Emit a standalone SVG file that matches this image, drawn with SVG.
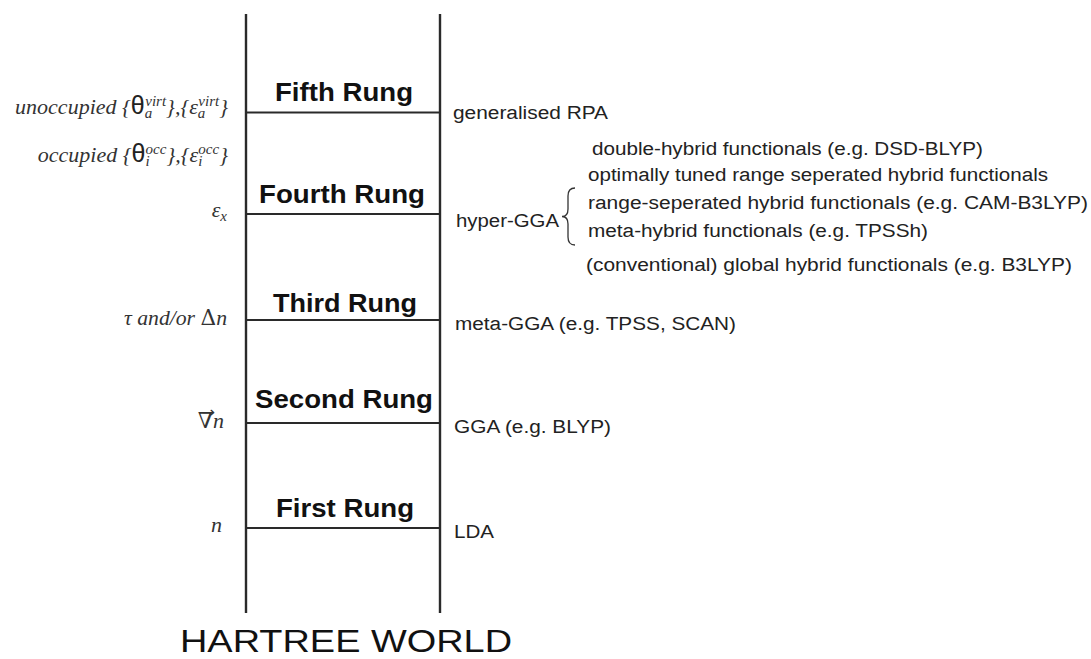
<svg xmlns="http://www.w3.org/2000/svg" width="1091" height="659" viewBox="0 0 1091 659">
<style>
.rail{stroke:#2a2a2a;stroke-width:2.4;fill:none}
.rung{stroke:#2a2a2a;stroke-width:2.2;fill:none}
.brace{stroke:#333;stroke-width:1.3;fill:none}
.rl{font-family:"Liberation Sans",Arial,sans-serif;font-weight:bold;font-size:26px;fill:#111}
.fl{font-family:"Liberation Sans",Arial,sans-serif;font-size:18px;fill:#222}
.m{font-family:"Liberation Serif","Times New Roman",serif;font-style:italic;font-size:22px;fill:#333}
.th{font-family:"Liberation Sans",Arial,sans-serif;font-style:normal;font-size:25px;fill:#222}
.s{font-size:15px}
.up{font-family:"DejaVu Serif",serif;font-style:normal}
.ar{font-family:"DejaVu Sans",sans-serif;font-size:14px;fill:#333}
.hw{font-family:"Liberation Sans",Arial,sans-serif;font-size:32px;fill:#111}
</style>
<g id="connectors">
<line class="rail" x1="246" y1="14" x2="246" y2="613"/>
<line class="rail" x1="440" y1="14" x2="440" y2="613"/>
</g>
<g id="rung5">
<line class="rung" x1="246" y1="112.5" x2="441" y2="112.5"/>
<text class="rl" x="275" y="101" textLength="138" lengthAdjust="spacingAndGlyphs">Fifth Rung</text>
<text class="fl" x="453" y="118.5" textLength="155" lengthAdjust="spacingAndGlyphs">generalised RPA</text>
<text class="m" x="228" y="114" text-anchor="end">unoccupied {<tspan class="th">θ</tspan><tspan class="s" dy="4">a</tspan><tspan class="s" dx="-7" dy="-12.5">virt</tspan><tspan dy="8.5">},{ε</tspan><tspan class="s" dy="4">a</tspan><tspan class="s" dx="-7" dy="-12.5">virt</tspan><tspan dy="8.5">}</tspan></text>
<text class="m" x="228" y="162" text-anchor="end">occupied {<tspan class="th">θ</tspan><tspan class="s" dy="4">i</tspan><tspan class="s" dx="-4" dy="-12.5">occ</tspan><tspan dy="8.5">},{ε</tspan><tspan class="s" dy="4">i</tspan><tspan class="s" dx="-4" dy="-12.5">occ</tspan><tspan dy="8.5">}</tspan></text>
</g>
<g id="rung4">
<line class="rung" x1="246" y1="214" x2="441" y2="214"/>
<text class="rl" x="259" y="203" textLength="166" lengthAdjust="spacingAndGlyphs">Fourth Rung</text>
<text class="fl" x="456" y="227" textLength="103" lengthAdjust="spacingAndGlyphs">hyper-GGA</text>
<path class="brace" d="M575,188 Q568,188 568,196 L568,209 Q568,216.5 562,216.5 Q568,216.5 568,224 L568,237 Q568,245 575,245"/>
<text class="fl" x="592" y="155" textLength="391" lengthAdjust="spacingAndGlyphs">double-hybrid functionals (e.g. DSD-BLYP)</text>
<text class="fl" x="588" y="181" textLength="460" lengthAdjust="spacingAndGlyphs">optimally tuned range seperated hybrid functionals</text>
<text class="fl" x="588" y="209" textLength="500" lengthAdjust="spacingAndGlyphs">range-seperated hybrid functionals (e.g. CAM-B3LYP)</text>
<text class="fl" x="588" y="237" textLength="340" lengthAdjust="spacingAndGlyphs">meta-hybrid functionals (e.g. TPSSh)</text>
<text class="fl" x="586" y="271" textLength="486" lengthAdjust="spacingAndGlyphs">(conventional) global hybrid functionals (e.g. B3LYP)</text>
<text class="m" x="227" y="217" text-anchor="end">ε<tspan class="s" dy="4">x</tspan></text>
</g>
<g id="rung3">
<line class="rung" x1="246" y1="320" x2="441" y2="320"/>
<text class="rl" x="273" y="312" textLength="144" lengthAdjust="spacingAndGlyphs">Third Rung</text>
<text class="fl" x="455" y="330" textLength="281" lengthAdjust="spacingAndGlyphs">meta-GGA (e.g. TPSS, SCAN)</text>
<text class="m" x="124" y="325" textLength="103" lengthAdjust="spacingAndGlyphs">τ and/or <tspan class="up">Δ</tspan>n</text>
</g>
<g id="rung2">
<line class="rung" x1="246" y1="423" x2="441" y2="423"/>
<text class="rl" x="255" y="408" textLength="178" lengthAdjust="spacingAndGlyphs">Second Rung</text>
<text class="fl" x="454" y="433" textLength="157" lengthAdjust="spacingAndGlyphs">GGA (e.g. BLYP)</text>
<text class="m" x="224" y="428" text-anchor="end"><tspan class="up">∇</tspan>n</text>
<text class="ar" x="202" y="417" textLength="13" lengthAdjust="spacingAndGlyphs">→</text>
</g>
<g id="rung1">
<line class="rung" x1="246" y1="528" x2="441" y2="528"/>
<text class="rl" x="276" y="517" textLength="138" lengthAdjust="spacingAndGlyphs">First Rung</text>
<text class="fl" x="454" y="538" textLength="40" lengthAdjust="spacingAndGlyphs">LDA</text>
<text class="m" x="222" y="532" text-anchor="end">n</text>
</g>
<g id="hartree">
<text class="hw" x="180" y="652" textLength="332" lengthAdjust="spacingAndGlyphs">HARTREE WORLD</text>
</g>
</svg>
